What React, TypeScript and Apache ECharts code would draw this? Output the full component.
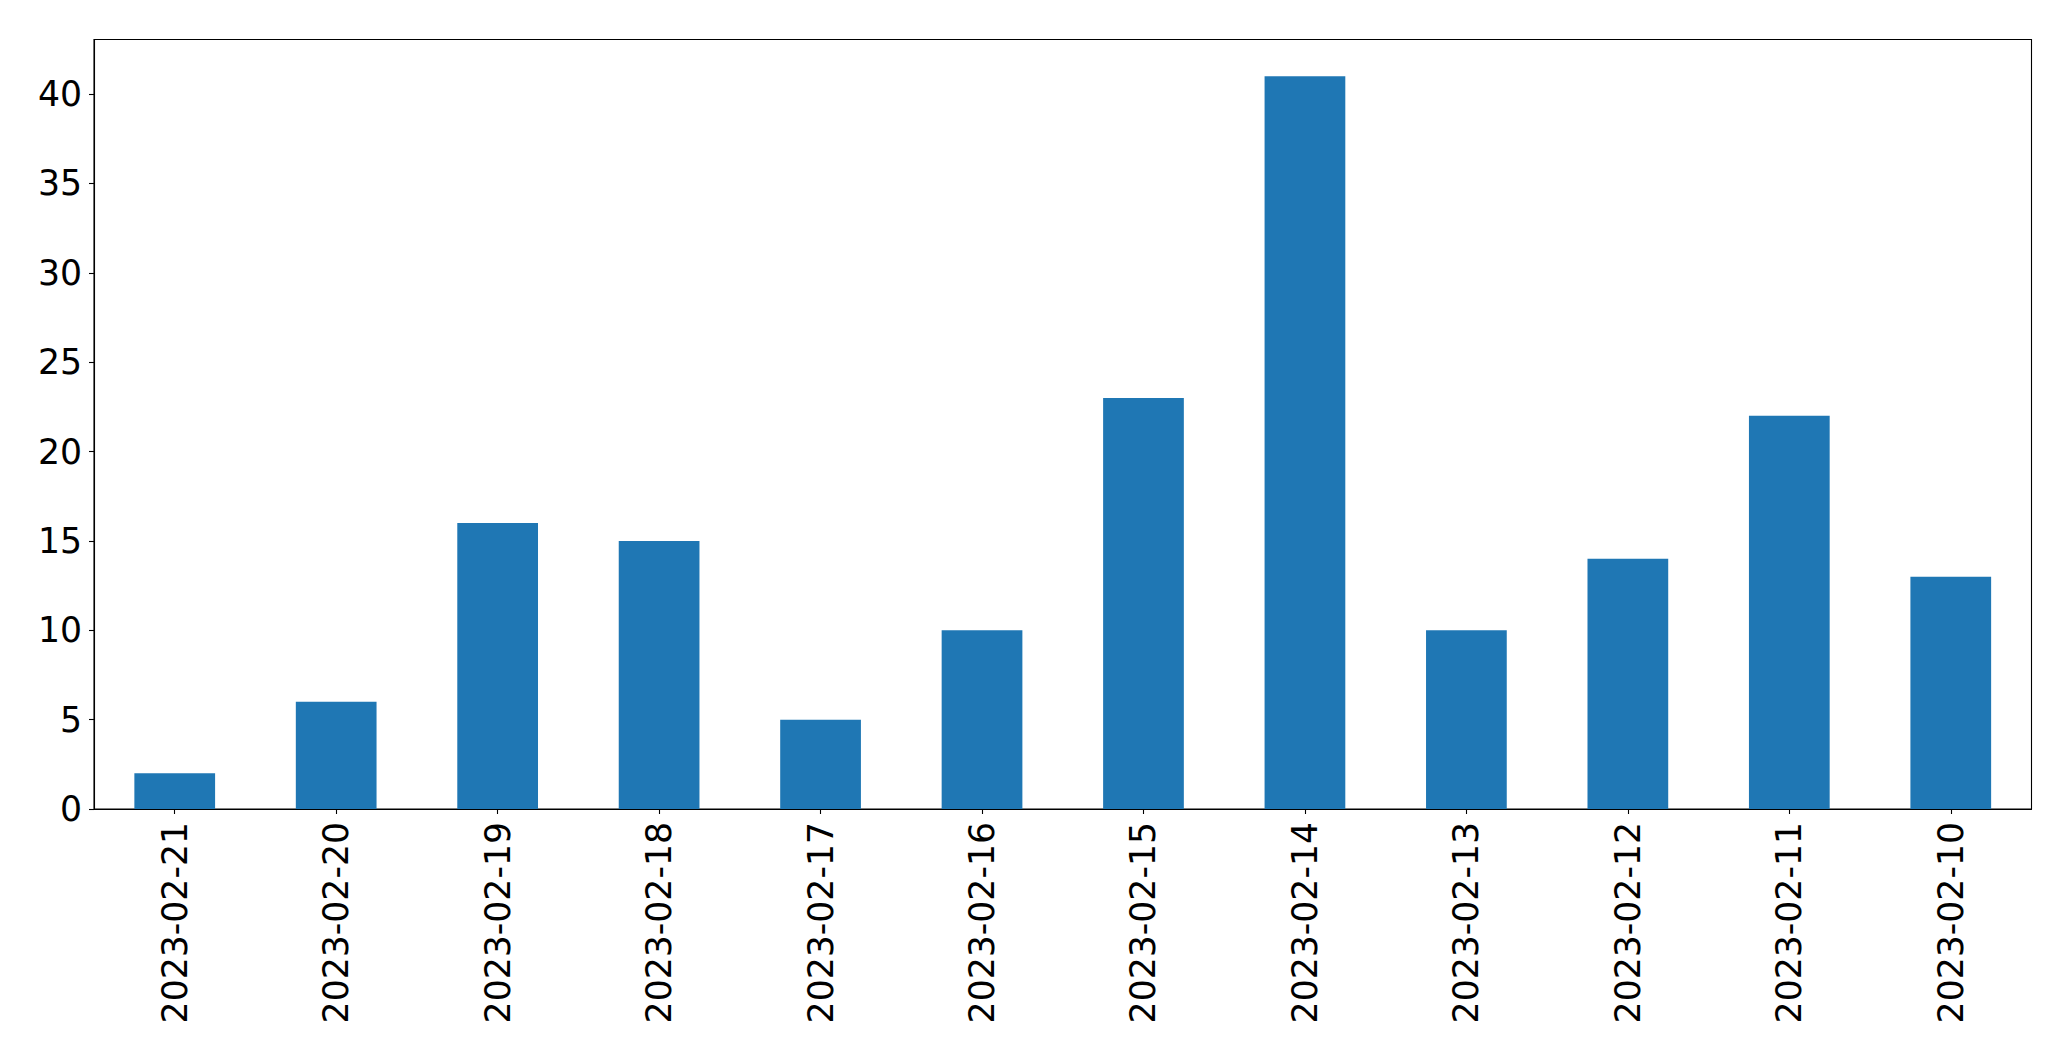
import React, { useEffect, useRef } from "react";
import * as echarts from "echarts";

const categories = [
  "2023-02-21", "2023-02-20", "2023-02-19", "2023-02-18", "2023-02-17", "2023-02-16",
  "2023-02-15", "2023-02-14", "2023-02-13", "2023-02-12", "2023-02-11", "2023-02-10",
];
const values = [2, 6, 16, 15, 5, 10, 23, 41, 10, 14, 22, 13];
const yTicks = [0, 5, 10, 15, 20, 25, 30, 35, 40];

export default function App() {
  const ref = useRef<HTMLDivElement>(null);
  useEffect(() => {
    if (!ref.current) return;
    const chart = echarts.init(ref.current, undefined, { renderer: "svg" });
    const font = "DejaVu Sans";
    const yMax = Math.max(...values) * 1.05;
    chart.setOption({
      animation: false,
      backgroundColor: "#ffffff",
      grid: {
        left: 94,
        right: 39.5,
        top: 39.5,
        bottom: 252,
        show: true,
        borderColor: "#000000",
        borderWidth: 1.1,
        containLabel: false,
      },
      xAxis: {
        type: "category",
        data: categories,
        boundaryGap: true,
        axisLine: { show: true, lineStyle: { color: "#000000", width: 1.1 } },
        axisTick: { show: true, alignWithLabel: true, length: 5, lineStyle: { color: "#000000", width: 1.1 } },
        axisLabel: {
          rotate: 90,
          fontSize: 34.67,
          fontFamily: font,
          color: "#000000",
          margin: 13,
          interval: 0,
        },
        splitLine: { show: false },
      },
      yAxis: {
        type: "value",
        min: 0,
        max: yMax,
        interval: 5,
        axisLine: { show: true, lineStyle: { color: "#000000", width: 1.1 } },
        axisTick: {
          show: true,
          length: 5,
          customValues: yTicks,
          lineStyle: { color: "#000000", width: 1.1 },
        },
        axisLabel: {
          fontSize: 34.67,
          fontFamily: font,
          color: "#000000",
          margin: 12,
          customValues: yTicks,
          formatter: (v: number) => (yTicks.includes(v) ? String(v) : ""),
        },
        splitLine: { show: false },
      },
      series: [
        {
          type: "bar",
          data: values,
          barWidth: "50%",
          itemStyle: { color: "#1f77b4" },
        },
      ],
    });
    return () => chart.dispose();
  }, []);
  return (
    <div
      ref={ref}
      style={{ position: "fixed", left: 0, top: 0, width: 2071, height: 1061, background: "#fff" }}
    />
  );
}
